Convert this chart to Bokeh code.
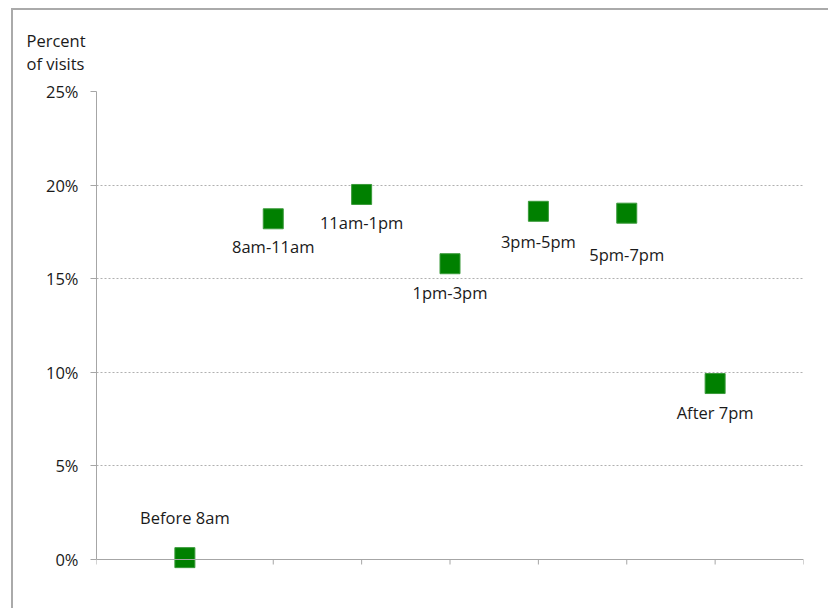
from bokeh.plotting import figure
from bokeh.models import ColumnDataSource, FixedTicker, PrintfTickFormatter, Range1d, Span, Title
from bokeh.embed import file_html
from bokeh.resources import INLINE
from bokeh.core.properties import value

# Data
categories = ["Before 8am", "8am-11am", "11am-1pm", "1pm-3pm", "3pm-5pm", "5pm-7pm", "After 7pm"]
percent_of_visits = [0.1, 18.2, 19.5, 15.8, 18.6, 18.5, 9.4]
y_ticks = [0, 5, 10, 15, 20, 25]
x_ticks = list(range(0, 9))

# label offsets in screen pixels (style): positive = below the marker
label_offsets = [-40, 28, 28, 29, 30, 41, 29]

FONT = "Open Sans"
FS = "16.5px"
GRAY = "#a6a6a6"
PX_PER_UNIT = 468 / 25.0
EXTRA_BOTTOM = 16  # pixels of frame below the 0% line so markers are not clipped

xpos = list(range(1, len(categories) + 1))
src = ColumnDataSource(dict(x=xpos, y=percent_of_visits, label=categories, dy=label_offsets))

p = figure(width=817, height=600, output_backend="svg", toolbar_location=None,
           x_range=Range1d(0, 8), y_range=Range1d(-EXTRA_BOTTOM / PX_PER_UNIT, 25),
           min_border_left=83, min_border_right=27, min_border_top=81,
           min_border_bottom=51 - EXTRA_BOTTOM)
p.styles = {"margin-left": "11px", "margin-top": "8px",
            "border-left": "2px solid #aaaaaa", "border-top": "2px solid #aaaaaa"}
p.outline_line_color = None
p.background_fill_color = "white"
p.border_fill_color = "white"

# y axis
p.yaxis.ticker = FixedTicker(ticks=y_ticks)
p.yaxis.formatter = PrintfTickFormatter(format="%d%%")
p.yaxis.bounds = (0, 25)
p.yaxis.axis_line_color = GRAY
p.yaxis.major_tick_line_color = GRAY
p.yaxis.major_tick_out = 6
p.yaxis.major_tick_in = 0
p.yaxis.minor_tick_line_color = None
p.yaxis.major_label_standoff = 12
p.yaxis.major_label_text_font = FONT
p.yaxis.major_label_text_font_size = FS
p.yaxis.major_label_text_color = "#1a1a1a"

# x axis drawn at the 0% line
p.xaxis.visible = False
p.add_layout(Span(location=0, dimension="width", line_color=GRAY, line_width=1))
tick_len = 5 / PX_PER_UNIT
p.segment(x0=x_ticks, y0=[0] * len(x_ticks), x1=x_ticks, y1=[-tick_len] * len(x_ticks),
          line_color=GRAY, line_width=1)

p.xgrid.grid_line_color = None
p.ygrid.ticker = FixedTicker(ticks=y_ticks[1:])
p.ygrid.grid_line_color = "#b0b0b0"
p.ygrid.grid_line_dash = "2 2"
p.ygrid.grid_line_width = 1

p.scatter("x", "y", source=src, marker="square", size=20,
          fill_color="#008000", line_color="#3a9a3a", line_width=1)

p.text("x", "y", text="label", source=src, y_offset="dy",
       text_align="center", text_baseline="middle",
       text_font=value(FONT), text_font_size=FS, text_color="#1a1a1a")

title = Title(text="Percent\nof visits", align="left", offset=-70, standoff=33,
              text_font=FONT, text_font_size=FS, text_font_style="normal",
              text_color="#1a1a1a", text_line_height=0.98)
p.add_layout(title, "above")

open("out.html", "w").write(file_html(p, INLINE))
